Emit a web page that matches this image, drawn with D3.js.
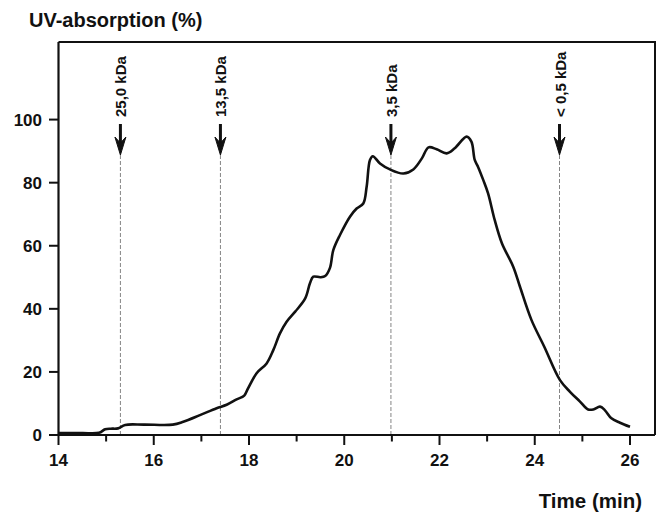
<!DOCTYPE html>
<html>
<head>
<meta charset="utf-8">
<script src="https://cdn.jsdelivr.net/npm/d3@7"></script>
<style>
  body { margin: 0; background: #fff; }
  text { font-family: "Liberation Sans", Arial, sans-serif; font-weight: bold; fill: #111; }
</style>
</head>
<body>
<div id="chart"></div>
<script>

// elution profile
var times = [14.0, 14.5, 14.85, 14.98, 15.1, 15.25, 15.4, 15.8, 16.4, 16.62, 16.97, 17.32, 17.53,
    17.74, 17.9, 17.98, 18.16, 18.37, 18.51, 18.65, 18.79, 18.97, 19.18, 19.28, 19.35, 19.5,
    19.6, 19.7, 19.77, 19.91, 20.12, 20.26, 20.4, 20.47, 20.54, 20.6, 20.75, 20.96, 21.24,
    21.45, 21.63, 21.77, 21.94, 22.15, 22.32, 22.57, 22.67, 22.74, 22.81, 22.92, 23.02, 23.16,
    23.31, 23.55, 23.69, 23.93, 24.2, 24.53, 24.74, 24.95, 25.12, 25.23, 25.37, 25.47, 25.61,
    25.79, 26.0];
var absorption = [0.6, 0.6, 0.7, 1.8, 2.0, 2.1, 3.2, 3.3, 3.3, 4.2, 6.3, 8.5, 9.6,
    11.3, 12.5, 14.8, 19.6, 22.7, 26.9, 32.2, 35.9, 39.1, 43.3, 48.1, 50.2, 50.0,
    50.4, 53.0, 58.6, 63.4, 69.2, 71.8, 73.4, 78.7, 87.2, 88.4, 86.1, 84.2, 82.9,
    84.2, 87.7, 91.2, 90.6, 89.3, 90.9, 94.6, 93.0, 87.2, 85.0, 80.8, 76.6, 68.1,
    60.8, 53.3, 47.0, 36.5, 28.0, 17.4, 13.7, 10.6, 8.1, 8.1, 9.0, 7.9, 5.3,
    3.9, 2.6];

// molecular weight markers
var markerTimes = [15.3, 17.4, 20.98, 24.52];
var markerLabels = ["25,0 kDa", "13,5 kDa", "3,5 kDa", "< 0,5 kDa"];

var xTicks = [14, 16, 18, 20, 22, 24, 26];
var xMinorTicks = [15, 17, 19, 21, 23, 25];
var yTicks = [0, 20, 40, 60, 80, 100];

var W = 659, H = 514;
var plotLeft = 58.5, plotRight = 655, plotTop = 42, plotBottom = 435;

var svg = d3.select("#chart").append("svg")
    .attr("width", W)
    .attr("height", H);

var x = d3.scaleLinear().domain([14, 26]).range([plotLeft, 630]);
var y = d3.scaleLinear().domain([0, 124.6]).range([plotBottom, plotTop]);

// frame (top + right)
svg.append("path")
    .attr("d", "M" + plotLeft + "," + plotTop + "H" + plotRight + "V" + plotBottom)
    .attr("fill", "none")
    .attr("stroke", "#111")
    .attr("stroke-width", 2);

// marker dashed lines + arrows + labels
var markers = svg.selectAll(".marker")
    .data(markerTimes)
    .enter().append("g")
    .attr("class", "marker")
    .attr("transform", function(d) { return "translate(" + x(d) + ",0)"; });

markers.append("line")
    .attr("y1", 155).attr("y2", plotBottom)
    .attr("stroke", "#777")
    .attr("stroke-width", 0.9)
    .attr("stroke-dasharray", "4,2");

markers.append("line")
    .attr("y1", 124).attr("y2", 145)
    .attr("stroke", "#111")
    .attr("stroke-width", 3);

markers.append("path")
    .attr("d", "M-5.5,137L0,143L5.5,137L0,155Z")
    .attr("fill", "#111")
    .attr("stroke", "#111")
    .attr("stroke-width", 1);

markers.append("text")
    .attr("transform", "translate(6,117) rotate(-90)")
    .style("font-size", "15px")
    .text(function(d, i) { return markerLabels[i]; });

// x axis
var xAxis = svg.append("g")
    .attr("transform", "translate(0," + plotBottom + ")");
xAxis.append("line")
    .attr("x1", 49).attr("x2", plotRight)
    .attr("stroke", "#111").attr("stroke-width", 2.2);
xAxis.selectAll(".tick")
    .data(xTicks)
    .enter().append("line")
    .attr("x1", function(d) { return x(d); })
    .attr("x2", function(d) { return x(d); })
    .attr("y1", 0).attr("y2", 10)
    .attr("stroke", "#111").attr("stroke-width", 2);
xAxis.selectAll(".minor")
    .data(xMinorTicks)
    .enter().append("line")
    .attr("x1", function(d) { return x(d); })
    .attr("x2", function(d) { return x(d); })
    .attr("y1", 0).attr("y2", 6.5)
    .attr("stroke", "#111").attr("stroke-width", 2);
xAxis.selectAll(".lbl")
    .data(xTicks)
    .enter().append("text")
    .attr("x", function(d) { return x(d); })
    .attr("y", 31)
    .attr("text-anchor", "middle")
    .style("font-size", "17px")
    .text(function(d) { return d; });

// y axis
var yAxis = svg.append("g");
yAxis.append("line")
    .attr("x1", plotLeft).attr("x2", plotLeft)
    .attr("y1", plotTop).attr("y2", plotBottom)
    .attr("stroke", "#111").attr("stroke-width", 2.2);
yAxis.selectAll(".tick")
    .data(yTicks)
    .enter().append("line")
    .attr("x1", 49).attr("x2", plotLeft)
    .attr("y1", function(d) { return y(d); })
    .attr("y2", function(d) { return y(d); })
    .attr("stroke", "#111").attr("stroke-width", 2);
yAxis.selectAll(".lbl")
    .data(yTicks)
    .enter().append("text")
    .attr("x", 42)
    .attr("y", function(d) { return y(d) + 6; })
    .attr("text-anchor", "end")
    .style("font-size", "17px")
    .text(function(d) { return d; });

// curve
var pts = times.map(function(t, i) { return [t, absorption[i]]; });
var line = d3.line()
    .x(function(d) { return x(d[0]); })
    .y(function(d) { return y(d[1]); })
    .curve(d3.curveCatmullRom.alpha(0.5));

svg.append("path")
    .datum(pts)
    .attr("d", line)
    .attr("fill", "none")
    .attr("stroke", "#111")
    .attr("stroke-width", 2.6)
    .attr("stroke-linejoin", "round");

// titles
svg.append("text")
    .attr("x", 29).attr("y", 27)
    .style("font-size", "20px")
    .text("UV-absorption (%)");

svg.append("text")
    .attr("x", 642).attr("y", 508)
    .attr("text-anchor", "end")
    .style("font-size", "20.5px")
    .text("Time (min)");

</script>
</body>
</html>
